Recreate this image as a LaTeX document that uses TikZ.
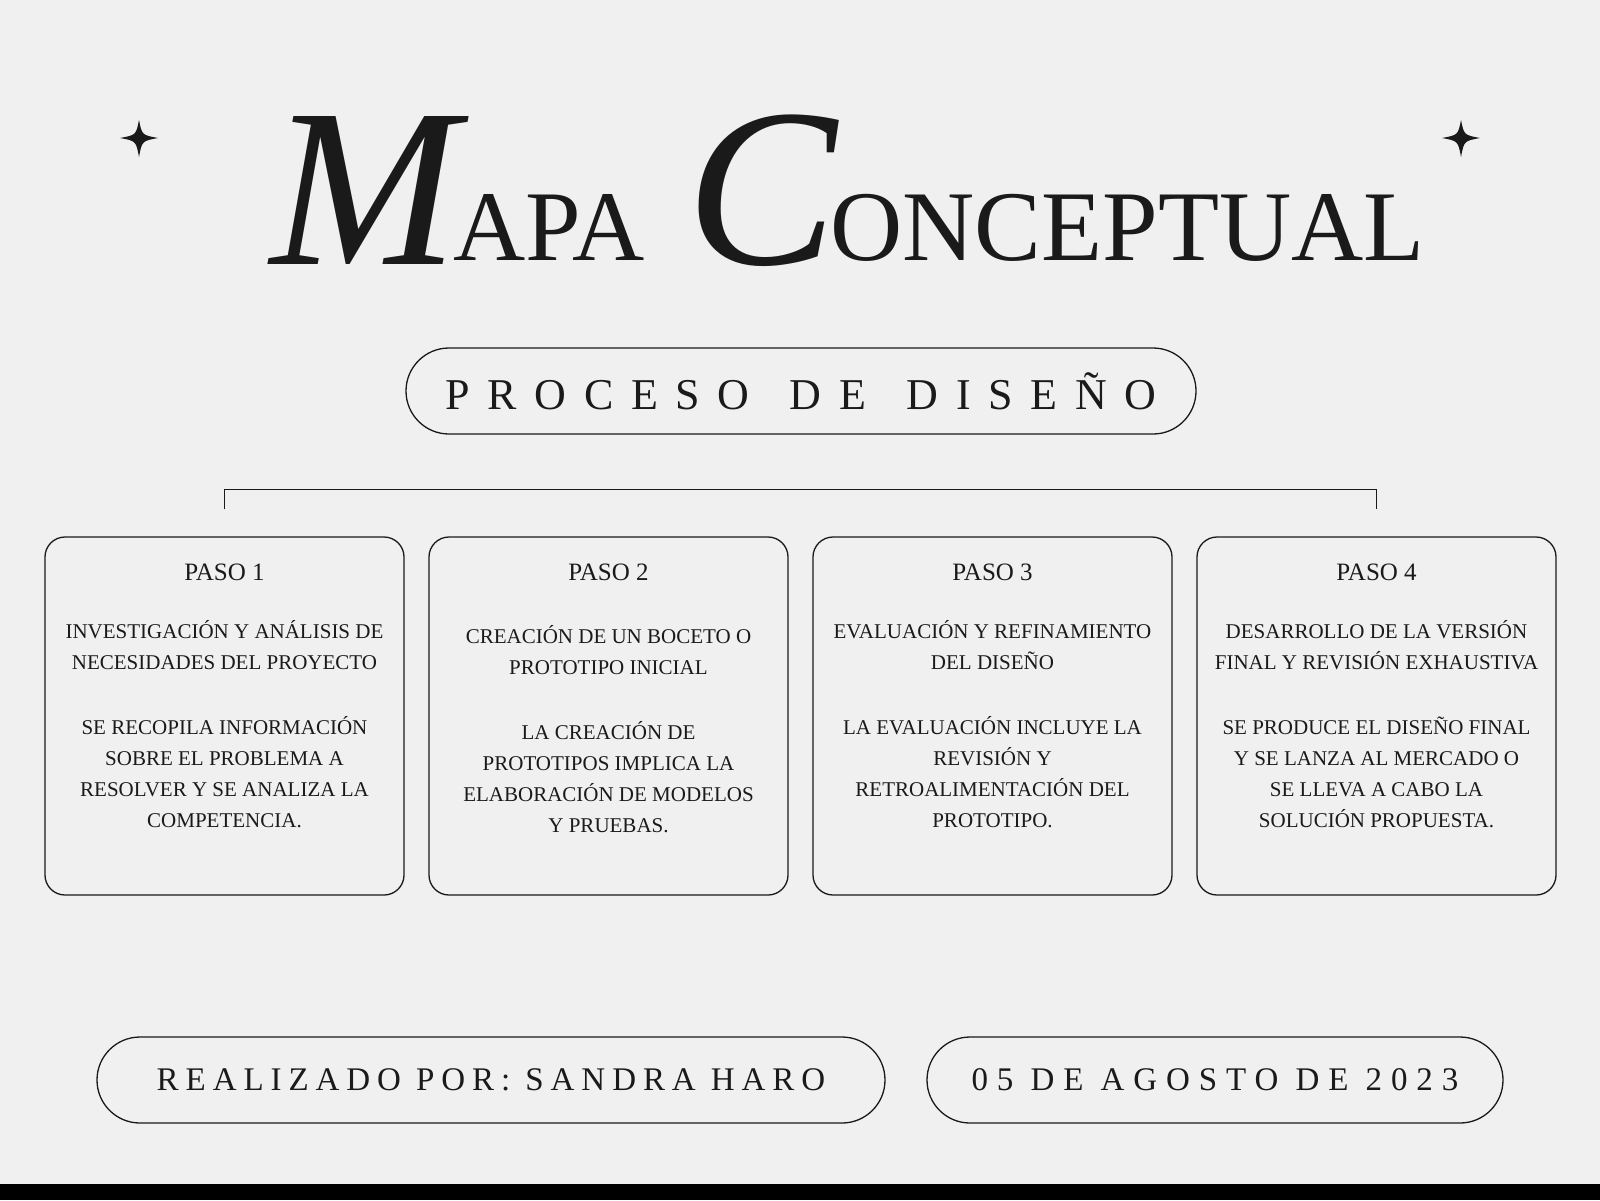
\documentclass[tikz,border=0pt]{standalone}
\usepackage{fontspec}
\setmainfont{Liberation Serif}
\usetikzlibrary{positioning,calc}
\definecolor{fondo}{HTML}{F0F0F0}
\definecolor{tinta}{HTML}{1A1A1A}
\tikzset{
  pasobox/.style={draw=tinta, line width=0.65pt, rounded corners=10pt, minimum width=179.5pt, minimum height=179pt, inner sep=0pt},
  pasotitulo/.style={anchor=base, inner sep=0pt, text=tinta, font=\fontsize{12.5}{15}\selectfont},
  pasotexto/.style={anchor=north, inner sep=0pt, align=center, text=tinta, font=\fontsize{10.5}{15.5}\selectfont},
  pill/.style={draw=tinta, line width=0.65pt, rounded corners=21.5pt, minimum height=43pt, inner sep=0pt, text=tinta},
  letrainicial/.style={anchor=base, inner sep=0pt, text=tinta, font=\itshape\fontsize{113}{120}\selectfont},
  letratitulo/.style={inner sep=0pt, text=tinta, font=\fontsize{50}{60}\selectfont}
}

\begin{document}
\begin{tikzpicture}[x=0.5pt, y=-0.5pt]
  \fill[fondo] (0,0) rectangle (1600,1200);
  \fill[black] (0,1184) rectangle (1600,1200);
  \useasboundingbox (0,0) rectangle (1600,1200);
  \foreach \sx in {139,1461}
    \fill[tinta] (\sx,120) .. controls (\sx+3,135) .. (\sx+19,138) .. controls (\sx+3,141) .. (\sx,157)
      .. controls (\sx-3,141) .. (\sx-19,138) .. controls (\sx-3,135) .. cycle;

  \node[letrainicial] (letraM) at (365,264) {M};
  \node[letratitulo, anchor=base east] (palabraAPA) at (645,260) {APA};
  \node[letrainicial] (letraC) at (762,264) {C};
  \node[letratitulo, anchor=base west] (palabraONC) at (830,260) {ONCEPTUAL};

  \node[pill, minimum width=395pt, font=\fontsize{22}{26}\selectfont\addfontfeatures{LetterSpace=40}] (proceso) at (801,391) {PROCESO\hspace{6pt} DE\hspace{6pt} DISEÑO};

  \node[pasobox] (paso1) at (224.5,716) {};
  \node[pasobox, right=11.85pt of paso1] (paso2) {};
  \node[pasobox, right=11.85pt of paso2] (paso3) {};
  \node[pasobox, right=11.85pt of paso3] (paso4) {};
  \foreach \n in {1,...,4}
    \node[pasotitulo] (titulo\n) at ($(paso\n.north)+(0,44)$) {PASO \n};

  \node[pasotexto] (texto1) at ($(paso1.north)+(0,84)$) {INVESTIGACIÓN Y ANÁLISIS DE\\NECESIDADES DEL PROYECTO\\[17pt]SE RECOPILA INFORMACIÓN\\SOBRE EL PROBLEMA A\\RESOLVER Y SE ANALIZA LA\\COMPETENCIA.};
  \node[pasotexto] (texto2) at ($(paso2.north)+(0,89)$) {CREACIÓN DE UN BOCETO O\\PROTOTIPO INICIAL\\[17pt]LA CREACIÓN DE\\PROTOTIPOS IMPLICA LA\\ELABORACIÓN DE MODELOS\\Y PRUEBAS.};
  \node[pasotexto] (texto3) at ($(paso3.north)+(0,84)$) {EVALUACIÓN Y REFINAMIENTO\\DEL DISEÑO\\[17pt]LA EVALUACIÓN INCLUYE LA\\REVISIÓN Y\\RETROALIMENTACIÓN DEL\\PROTOTIPO.};
  \node[pasotexto] (texto4) at ($(paso4.north)+(0,84)$) {DESARROLLO DE LA VERSIÓN\\FINAL Y REVISIÓN EXHAUSTIVA\\[17pt]SE PRODUCE EL DISEÑO FINAL\\Y SE LANZA AL MERCADO O\\SE LLEVA A CABO LA\\SOLUCIÓN PROPUESTA.};

  \coordinate (enlace1) at ($(paso1.north)+(0,-27)$);
  \coordinate (enlace4) at ($(paso4.north)+(0,-27)$);
  \draw[tinta, line width=0.65pt] (enlace1) -- ++(0,-20) -| (enlace4);

  \node[pill, minimum width=394pt, font=\fontsize{16.5}{20}\selectfont\addfontfeatures{LetterSpace=21}] (realizado) at (491,1080) {REALIZADO POR: SANDRA HARO};
  \node[pill, minimum width=288pt, font=\fontsize{16.5}{20}\selectfont\addfontfeatures{LetterSpace=27}] (fecha) at (1215,1080) {05 DE AGOSTO DE 2023};
\end{tikzpicture}
\end{document}
